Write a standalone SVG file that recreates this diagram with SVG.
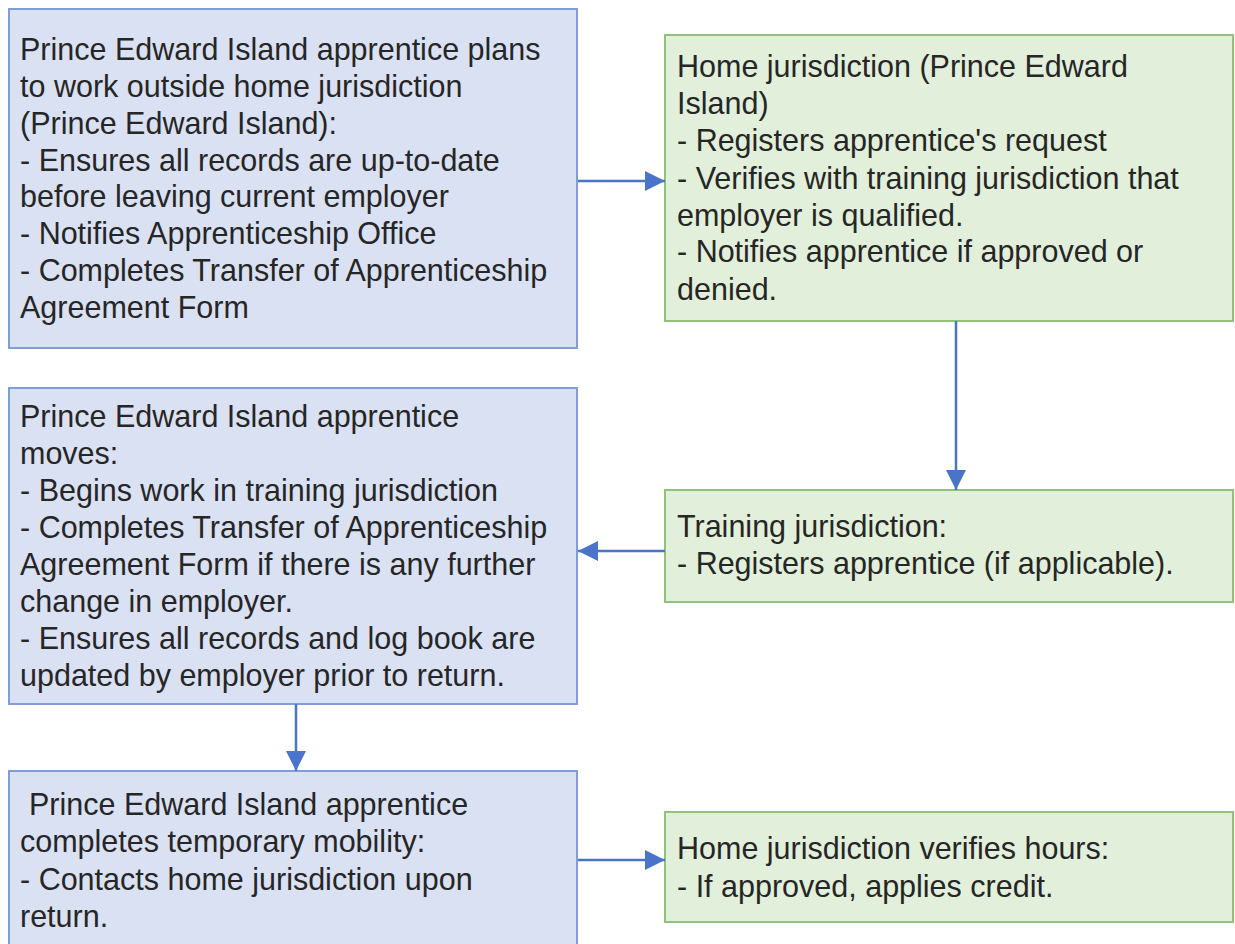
<svg xmlns="http://www.w3.org/2000/svg" width="1235" height="944" viewBox="0 0 1235 944">
<style>
.blue{fill:#dae1f3;stroke:#7f9ed6;stroke-width:2}
.green{fill:#e2efda;stroke:#90c27a;stroke-width:2}
.t{font-family:"Liberation Sans",Arial,sans-serif;font-size:30.5px;fill:#262626}
.c{stroke:#4a74c9;stroke-width:2.5;fill:none;marker-end:url(#ah)}
</style>
<defs>
<marker id="ah" markerUnits="userSpaceOnUse" markerWidth="22" markerHeight="22" refX="20" refY="10" orient="auto">
<path d="M0,0 L20,10 L0,20 Z" fill="#4a74c9"/>
</marker>
</defs>
<rect width="1235" height="944" fill="#ffffff"/>
<g id="n1">
<rect class="blue" x="9" y="9" width="568" height="339"/>
<text class="t" x="20"><tspan x="20" y="60">Prince Edward Island apprentice plans</tspan><tspan x="20" y="97">to work outside home jurisdiction</tspan><tspan x="20" y="134">(Prince Edward Island):</tspan><tspan x="20" y="171">- Ensures all records are up-to-date</tspan><tspan x="20" y="207">before leaving current employer</tspan><tspan x="20" y="244">- Notifies Apprenticeship Office</tspan><tspan x="20" y="281">- Completes Transfer of Apprenticeship</tspan><tspan x="20" y="318">Agreement Form</tspan></text>
</g>
<g id="n2">
<rect class="green" x="665" y="35" width="568" height="286"/>
<text class="t"><tspan x="677" y="77">Home jurisdiction (Prince Edward</tspan><tspan x="677" y="114">Island)</tspan><tspan x="677" y="151">- Registers apprentice's request</tspan><tspan x="677" y="189">- Verifies with training jurisdiction that</tspan><tspan x="677" y="226">employer is qualified.</tspan><tspan x="677" y="262">- Notifies apprentice if approved or</tspan><tspan x="677" y="300">denied.</tspan></text>
</g>
<g id="n3">
<rect class="green" x="665" y="490" width="568" height="112"/>
<text class="t"><tspan x="677" y="537">Training jurisdiction:</tspan><tspan x="677" y="574">- Registers apprentice (if applicable).</tspan></text>
</g>
<g id="n4">
<rect class="blue" x="9" y="388" width="568" height="316"/>
<text class="t"><tspan x="20" y="427">Prince Edward Island apprentice</tspan><tspan x="20" y="464">moves:</tspan><tspan x="20" y="501">- Begins work in training jurisdiction</tspan><tspan x="20" y="538">- Completes Transfer of Apprenticeship</tspan><tspan x="20" y="575">Agreement Form if there is any further</tspan><tspan x="20" y="612">change in employer.</tspan><tspan x="20" y="649">- Ensures all records and log book are</tspan><tspan x="20" y="686">updated by employer prior to return.</tspan></text>
</g>
<g id="n5">
<rect class="blue" x="9" y="771" width="568" height="200"/>
<text class="t"><tspan x="29" y="815">Prince Edward Island apprentice</tspan><tspan x="20" y="852">completes temporary mobility:</tspan><tspan x="20" y="890">- Contacts home jurisdiction upon</tspan><tspan x="20" y="927">return.</tspan></text>
</g>
<g id="n6">
<rect class="green" x="665" y="812" width="568" height="110"/>
<text class="t"><tspan x="677" y="859">Home jurisdiction verifies hours:</tspan><tspan x="677" y="897">- If approved, applies credit.</tspan></text>
</g>
<g id="connectors">
<path class="c" d="M578,181 L665,181"/>
<path class="c" d="M956,321 L956,490"/>
<path class="c" d="M665,551 L578,551"/>
<path class="c" d="M296,704 L296,771"/>
<path class="c" d="M578,860 L665,860"/>
</g>
</svg>
